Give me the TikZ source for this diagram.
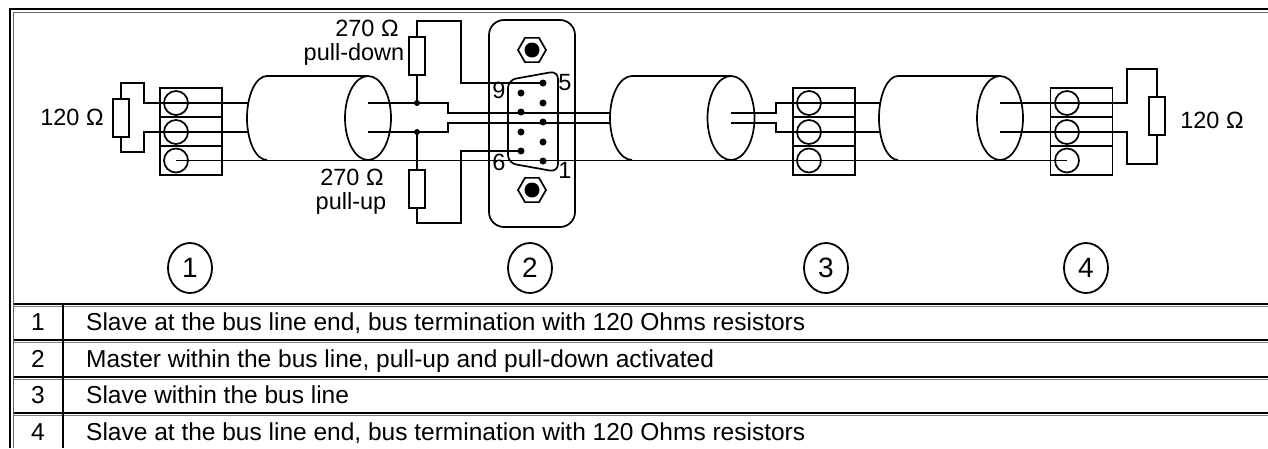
\documentclass[tikz,border=0pt]{standalone}
\usepackage{fontspec}
\setmainfont{Liberation Sans}
\usetikzlibrary{shapes.geometric}

\begin{document}
\begin{tikzpicture}[
    x = 1pt, y = -1pt,
    wire/.style = {line width = 1.7pt},
    res/.style = {shape = rectangle, draw, line width = 1.7pt, minimum width = 16pt, minimum height = 38pt, inner sep = 0pt},
    term/.style = {shape = rectangle, draw, line width = 1.7pt, minimum width = 62pt, minimum height = 87pt, inner sep = 0pt},
    hole/.style = {shape = circle, draw, line width = 1.7pt, minimum size = 24pt, inner sep = 0pt},
    pin/.style = {shape = circle, fill, minimum size = 7pt, inner sep = 0pt},
    joint/.style = {shape = circle, fill, minimum size = 6pt, inner sep = 0pt},
    nut/.style = {shape = regular polygon, regular polygon sides = 6, draw, line width = 1.7pt, minimum size = 28pt, inner sep = 0pt},
    num/.style = {shape = ellipse, draw, line width = 1.8pt, minimum width = 44pt, minimum height = 50pt, inner sep = 0pt, font = \fontsize{28}{32}\selectfont},
    lbl/.style = {font = \fontsize{23.5}{28}\selectfont, inner sep = 0pt, anchor = base},
    cell/.style = {font = \fontsize{24.5}{28}\selectfont, inner sep = 0pt, anchor = base},
    ]
    \useasboundingbox (0, 0) rectangle (1268, 448);

    % frame and table
    \draw[line width = 2.2pt] (10, 448) -- (10, 9) -- (1268, 9);
    \draw[line width = 0.8pt, black!60] (13.5, 448) -- (13.5, 12.5) -- (1268, 12.5);
    \foreach \y in {303.5, 340, 376.5, 413} {
        \draw[line width = 2pt] (13.5, \y) -- (1268, \y);
        \draw[line width = 0.8pt, black!50] (13.5, \y+2.5) -- (1268, \y+2.5);
    }
    \draw[line width = 2pt] (63, 303.5) -- (63, 448);

    % resistors
    \node[res] (rLeft) at (121, 118) {};
    \node[res] (rDown) at (417, 56) {};
    \node[res] (rUp) at (417, 189) {};
    \node[res] (rRight) at (1157, 116) {};

    % terminal blocks
    \foreach \n/\x/\cx in {t1/191/176, t3/824/809, t4/1081.5/1067} {
        \node[term] (\n) at (\x, 131.5) {};
        \draw[wire] (\x-31, 117) -- (\x+31, 117) (\x-31, 146) -- (\x+31, 146);
        \foreach \y [count = \i] in {103, 132, 160.5}
            \node[hole] (\n-\i) at (\cx, \y) {};
    }

    % cables
    \draw[wire] (267, 76) arc[start angle = 270, end angle = 90, x radius = 20, y radius = 42];
    \draw[wire] (267, 76) -- (368, 76);
    \draw[wire] (368, 118) ellipse [x radius = 23, y radius = 42];
    \draw[wire] (632, 76) arc[start angle = 270, end angle = 90, x radius = 22, y radius = 42];
    \draw[wire] (632, 76) -- (731, 76);
    \draw[wire] (731, 118) ellipse [x radius = 23.5, y radius = 42];
    \draw[wire] (898, 76) arc[start angle = 270, end angle = 90, x radius = 19, y radius = 42];
    \draw[wire] (898, 76) -- (1000, 76);
    \draw[wire] (1000, 118) ellipse [x radius = 23, y radius = 42];

    % bus wires
    \draw[wire] (t1-3.center) -- (t4-3.center);
    \draw[wire] (rLeft.north) |- (144, 83) |- (248, 103);
    \draw[wire] (rLeft.south) |- (144, 152) |- (248, 132);
    \draw[wire] (368, 103) -| (448, 113) -- (610, 113);
    \draw[wire] (368, 132) -| (448, 123) -- (610, 123);
    \draw[wire] (731, 113) -| (776, 103) -- (880, 103);
    \draw[wire] (731, 123) -| (776, 132) -- (880, 132);
    \draw[wire] (1000, 103) -| (1127, 69) -| (rRight.north);
    \draw[wire] (1000, 132) -| (1127, 164) -| (rRight.south);

    % sub-d connector
    \draw[wire, rounded corners = 15pt] (489, 20) rectangle (575, 227);
    \draw[wire, rounded corners = 8pt] (508, 80) -- (558, 71) -- (558, 172) -- (508, 163) -- cycle;
    \node[nut] (nutTop) at (532, 50) {};
    \node[nut] (nutBot) at (532, 190) {};
    \fill (nutTop.center) circle [radius = 7.5];
    \fill (nutBot.center) circle [radius = 7.5];
    \foreach \y/\k in {83/5, 103/4, 122/3, 142/2, 161/1}
        \node[pin] (p\k) at (543, \y) {};
    \foreach \y/\k in {93/9, 112/8, 132/7, 151/6}
        \node[pin] (p\k) at (521, \y) {};

    % pull-up / pull-down
    \node[joint] (jDown) at (417, 103) {};
    \node[joint] (jUp) at (417, 132) {};
    \draw[wire] (jDown.center) -- (rDown.south);
    \draw[wire] (rDown.north) |- (461, 21) |- (p5.center);
    \draw[wire] (jUp.center) -- (rUp.north);
    \draw[wire] (rUp.south) |- (461, 223) |- (p6.center);

    % labels
    \node[lbl] (lLeft) at (72, 125) {120 Ω};
    \node[lbl] (lRight) at (1212, 128) {120 Ω};
    \node[lbl] (lDownVal) at (367, 36) {270 Ω};
    \node[lbl] (lDown) at (354, 60) {pull-down};
    \node[lbl] (lUpVal) at (352, 185) {270 Ω};
    \node[lbl] (lUp) at (351, 209) {pull-up};
    \node[lbl] (l9) at (499, 98) {9};
    \node[lbl] (l5) at (565, 90) {5};
    \node[lbl] (l6) at (499, 170) {6};
    \node[lbl] (l1) at (565, 178) {1};

    % station numbers
    \foreach \k/\x in {1/190, 2/530, 3/826, 4/1086}
        \node[num] (n\k) at (\x, 268) {\k};

    % legend
    \foreach \k/\y/\t in {1/330.5/{Slave at the bus line end, bus termination with 120 Ohms resistors},
                          2/367/{Master within the bus line, pull-up and pull-down activated},
                          3/403.5/{Slave within the bus line},
                          4/440/{Slave at the bus line end, bus termination with 120 Ohms resistors}} {
        \node[cell] (k\k) at (38, \y) {\k};
        \node[cell, anchor = base west] (d\k) at (86, \y) {\t};
    }
\end{tikzpicture}
\end{document}
